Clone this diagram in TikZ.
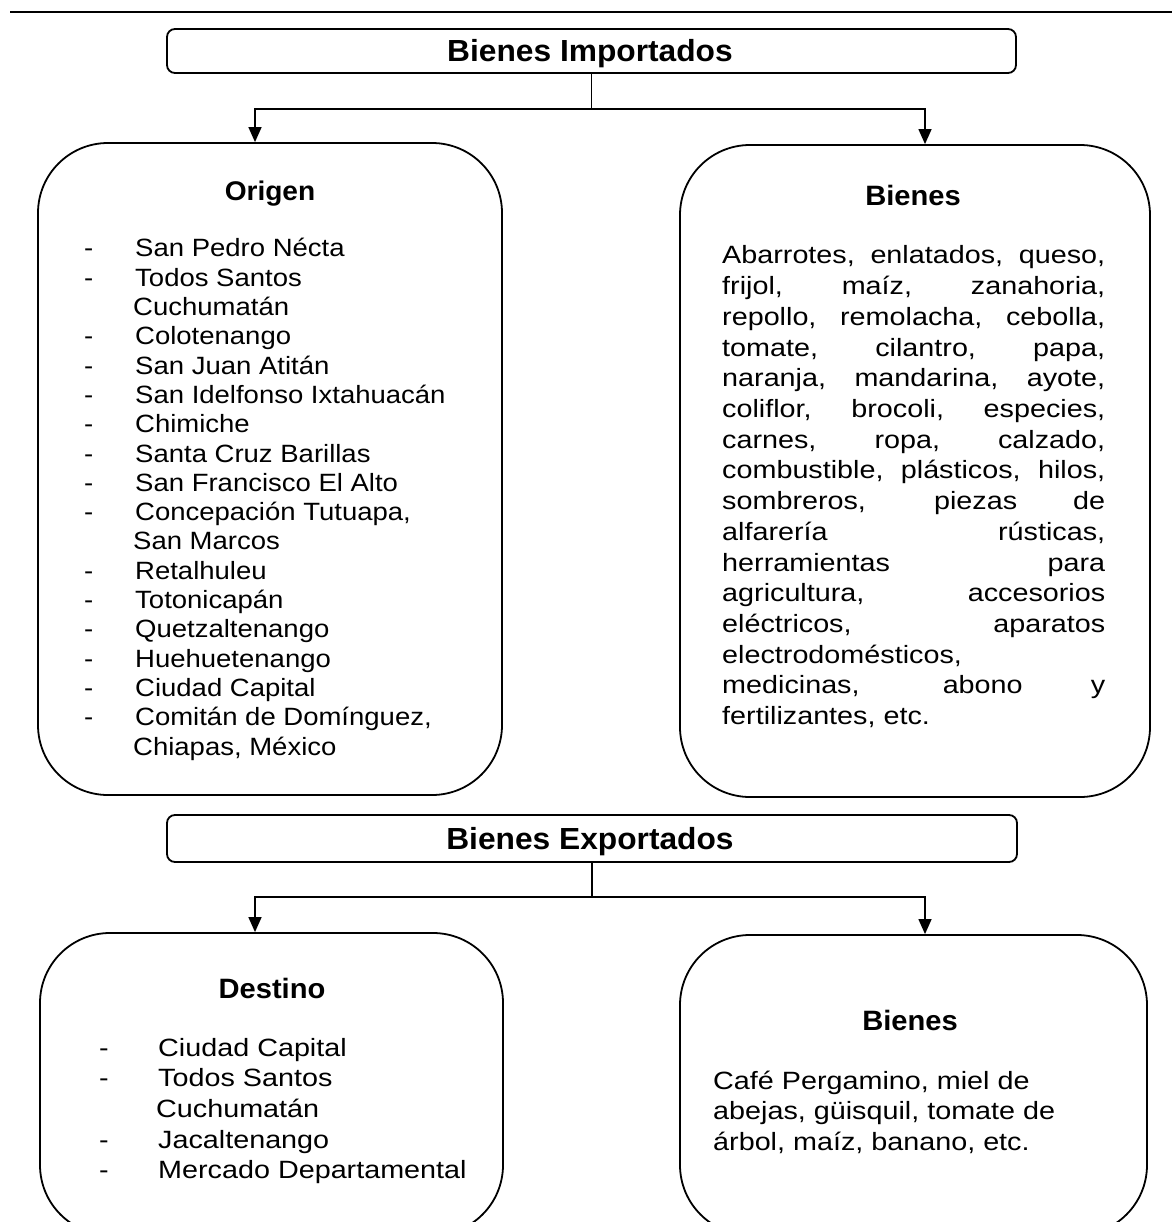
\documentclass[tikz,border=0pt]{standalone}
\usepackage{fontspec}
\setmainfont{Liberation Sans}
\newfontfamily\fa[FakeStretch=1.10]{Liberation Sans}
\newfontfamily\fb[FakeStretch=1.15]{Liberation Sans}
\newfontfamily\ft[FakeStretch=1.04]{Liberation Sans}
\usetikzlibrary{arrows.meta}
\tikzset{
  titlebox/.style={draw, line width=1.8pt, rounded corners=8pt, inner sep=0pt},
  bigbox/.style={draw, line width=1.8pt, rounded corners=70pt, inner sep=0pt},
  conn/.style={line width=1.4pt},
  arr/.style={conn, -{Triangle[width=13pt,length=15pt]}},
  ttl/.style={font=\ft\fontsize{30.5}{34}\selectfont\bfseries, inner sep=0pt},
  sub/.style={font=\ft\fontsize{28}{32}\selectfont\bfseries, inner sep=0pt},
  body/.style={font=\fa\fontsize{25}{29.3}\selectfont, inner sep=0pt, anchor=base west},
  bodyb/.style={font=\fb\fontsize{25}{30.7}\selectfont, inner sep=0pt, anchor=base west},
}
\begin{document}
\begin{tikzpicture}[x=1pt,y=-1pt]
\useasboundingbox[fill=white] (0,0) rectangle (1172,1222);
\draw[line width=1.6pt] (10,12) coordinate (rl) -- (1172,12) coordinate (rr);

% Top section
\node[titlebox, minimum width=849pt, minimum height=44pt] (imp) at (591.5,51) {};
\node[ttl] (impt) at (590,54) {Bienes Importados};
\node[bigbox, minimum width=464pt, minimum height=652pt] (orig) at (270,469) {};
\node[bigbox, minimum width=470pt, minimum height=652pt] (bien) at (915,471) {};
\draw[arr] (imp.south) -- ++(0,35) -| ([xshift=-15pt]orig.north);
\draw[arr] (imp.south) -- ++(0,35) -| ([xshift=10pt]bien.north);

\node[sub, font=\ft\fontsize{27}{30}\selectfont\bfseries] (origt) at (270,194) {Origen};
\node[body] (origl) at (84,257) {\begin{tabular}[t]{@{}p{51pt}@{}l@{}}
- & San Pedro Nécta\\
- & Todos Santos\\
  & \hspace{-2pt}Cuchumatán\\
- & Colotenango\\
- & San Juan Atitán\\
- & San Idelfonso Ixtahuacán\\
- & Chimiche\\
- & Santa Cruz Barillas\\
- & San Francisco El Alto\\
- & Concepación Tutuapa,\\
  & \hspace{-2pt}San Marcos\\
- & Retalhuleu\\
- & Totonicapán\\
- & Quetzaltenango\\
- & Huehuetenango\\
- & Ciudad Capital\\
- & Comitán de Domínguez,\\
  & \hspace{-2pt}Chiapas, México
\end{tabular}};

\node[sub] (bient) at (913,195) {Bienes};
\node[bodyb] (bienl) at (722,264) {\begin{tabular}[t]{@{}l@{}}
\makebox[383pt][s]{Abarrotes, enlatados, queso,}\\
\makebox[383pt][s]{frijol, maíz, zanahoria,}\\
\makebox[383pt][s]{repollo, remolacha, cebolla,}\\
\makebox[383pt][s]{tomate, cilantro, papa,}\\
\makebox[383pt][s]{naranja, mandarina, ayote,}\\
\makebox[383pt][s]{coliflor, brocoli, especies,}\\
\makebox[383pt][s]{carnes, ropa, calzado,}\\
\makebox[383pt][s]{combustible, plásticos, hilos,}\\
\makebox[383pt][s]{sombreros, piezas de}\\
\makebox[383pt][s]{alfarería rústicas,}\\
\makebox[383pt][s]{herramientas para}\\
\makebox[383pt][s]{agricultura, accesorios}\\
\makebox[383pt][s]{eléctricos, aparatos}\\
electrodomésticos,\\
\makebox[383pt][s]{medicinas, abono y}\\
fertilizantes, etc.
\end{tabular}};

% Bottom section
\node[titlebox, minimum width=850pt, minimum height=47pt] (exp) at (592,838.5) {};
\node[ttl] (expt) at (590,842) {Bienes Exportados};
\node[bigbox, minimum width=463pt, minimum height=302pt] (dest) at (271.5,1084) {};
\node[bigbox, minimum width=467pt, minimum height=300pt] (bien2) at (913.5,1085) {};
\draw[arr] (exp.south) -- ++(0,34) -| ([xshift=-16.5pt]dest.north);
\draw[arr] (exp.south) -- ++(0,34) -| ([xshift=11.5pt]bien2.north);

\node[sub] (destt) at (272,988) {Destino};
\node[bodyb] (destl) at (99,1056) {\begin{tabular}[t]{@{}p{59pt}@{}l@{}}
- & Ciudad Capital\\
- & Todos Santos\\
  & \hspace{-2pt}Cuchumatán\\
- & Jacaltenango\\
- & Mercado Departamental
\end{tabular}};

\node[sub] (bien2t) at (910,1020) {Bienes};
\node[bodyb] (bien2l) at (713,1089) {\begin{tabular}[t]{@{}l@{}}
Café Pergamino, miel de\\
abejas, güisquil, tomate de\\
árbol, maíz, banano, etc.
\end{tabular}};
\end{tikzpicture}
\end{document}
